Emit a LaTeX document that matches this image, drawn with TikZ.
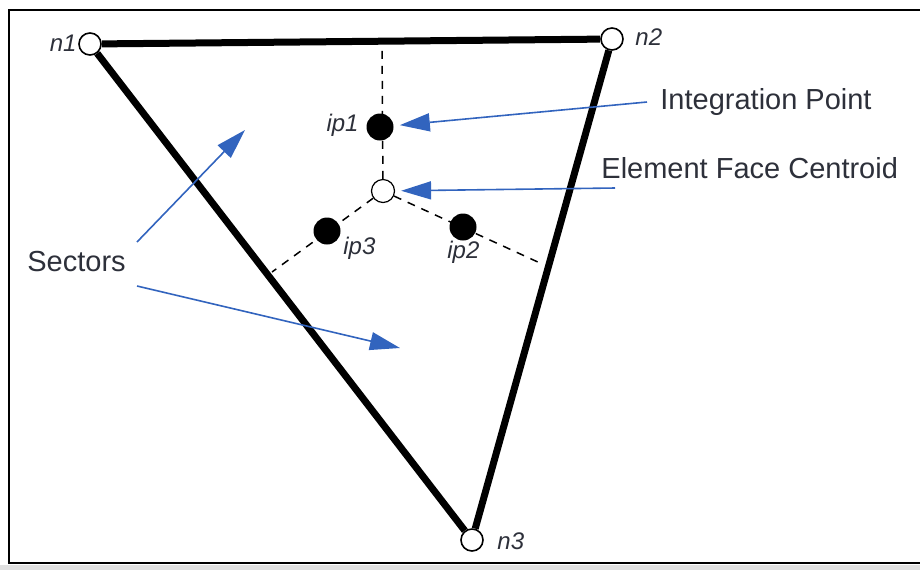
\documentclass[tikz,border=0pt]{standalone}
\usepackage{fontspec}
\setmainfont{Liberation Sans}
\usetikzlibrary{arrows.meta, positioning}
\definecolor{arrowblue}{RGB}{50,100,190}
\definecolor{inkgray}{RGB}{45,48,58}

\begin{document}
\begin{tikzpicture}[x=0.5pt,y=-0.5pt,
    vtx/.style={circle,draw,thick,fill=white,minimum size=11pt,inner sep=0pt},
    ipt/.style={circle,fill=black,minimum size=13.5pt,inner sep=0pt},
    ctr/.style={circle,draw,semithick,fill=white,minimum size=11.5pt,inner sep=0pt},
    side/.style={line width=3.5pt},
    split/.style={line width=0.75pt,dash pattern=on 4pt off 3.5pt},
    bluearrow/.style={arrowblue,line width=0.8pt,-{Triangle[length=15pt,width=9pt]}},
    lbl/.style={font=\fontsize{12}{14}\selectfont\itshape,text=inkgray,inner sep=0pt},
    note/.style={font=\fontsize{14.5}{17}\selectfont,text=inkgray,inner sep=0pt}]
    \useasboundingbox (0,0) rectangle (920,570);
    \fill[black!12] (0,565) rectangle (920,570);
    \draw[line width=1pt] (9,10) rectangle (935,563);

    \node[vtx] (n1) at (90,44) {};
    \node[vtx] (n2) at (612,39) {};
    \node[vtx] (n3) at (472,540) {};
    \node[ctr] (c) at (383,191) {};
    \foreach \i/\x/\y in {1/380/127, 2/463/227, 3/327/231}{
    \node[ipt] (ip\i) at (\x,\y) {}; }
    \coordinate (m12) at (382,42);
    \coordinate (m23) at (540,263);
    \coordinate (m31) at (272,272);

    \draw[side] (n1)--(n2) (n2)--(n3) (n3)--(n1);
    \draw[split] (c)--(m12) (c)--(m23) (c)--(m31);

    \node[lbl,anchor=east] at (77,43) {n1};
    \node[lbl,anchor=west] at (635,37) {n2};
    \node[lbl,anchor=west] at (497,541) {n3};
    \node[lbl,anchor=east] at (359,125) {ip1};
    \node[lbl,anchor=west] at (447,252) {ip2};
    \node[lbl,anchor=west] at (343,248) {ip3};

    \node[note,anchor=west] (lipt) at (660,102) {Integration Point};
    \node[note,anchor=west] (lcen) at (601,168) {Element Face Centroid};
    \node[note,anchor=west] (lsec) at (27,262) {Sectors};
    \coordinate (ipfrom) at (647,102);
    \coordinate (cfrom) at (615,188);
    \coordinate (sfrom1) at (137,242);
    \coordinate (sfrom2) at (137,286);
    \coordinate (sec1) at (245,130);
    \coordinate (sec2) at (400,348);

    \draw[bluearrow,shorten >=3pt] (ipfrom)--(ip1);
    \draw[bluearrow,shorten >=3pt] (cfrom)--(c);
    \draw[bluearrow] (sfrom1)--(sec1);
    \draw[bluearrow] (sfrom2)--(sec2);
\end{tikzpicture}
\end{document}
